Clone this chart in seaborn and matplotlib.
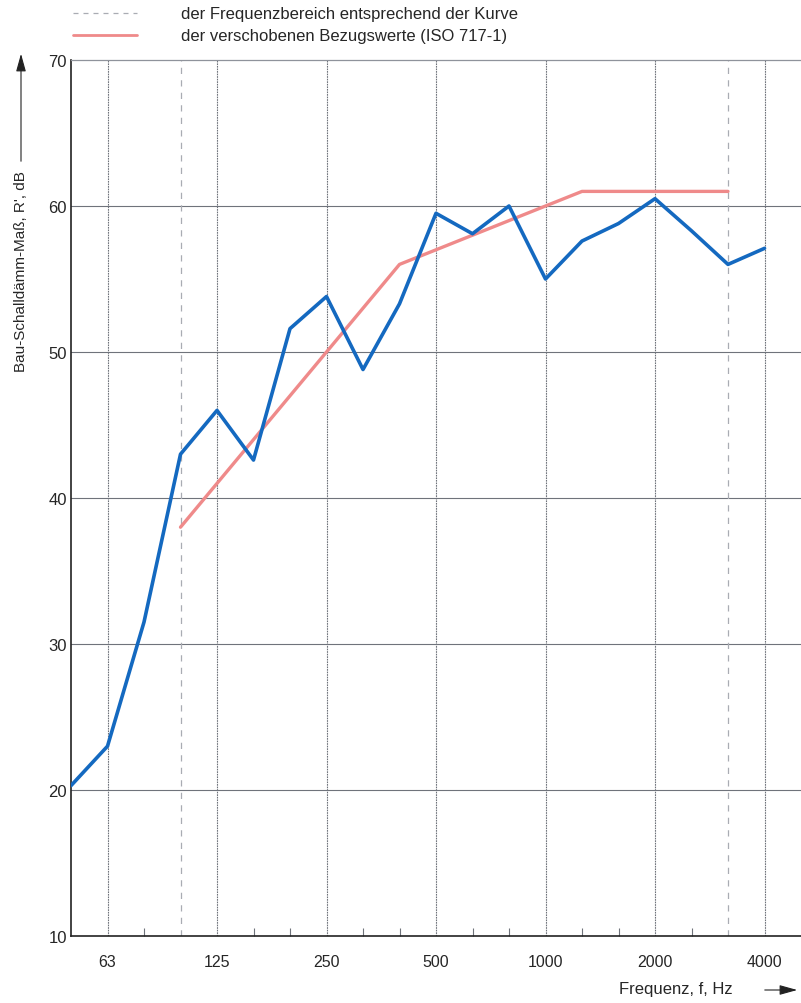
import matplotlib
matplotlib.use("Agg")
import matplotlib.pyplot as plt
import seaborn as sns
import pandas as pd
import numpy as np

# Third-octave band centre frequencies (Hz)
bands = ["50", "63", "80", "100", "125", "160", "200", "250", "315", "400",
         "500", "630", "800", "1000", "1250", "1600", "2000", "2500", "3150",
         "4000", "5000"]

# Measured apparent sound reduction index R' (dB), 50 Hz .. 4000 Hz
measured = [20.3, 23.0, 31.5, 43.0, 46.0, 42.6, 51.6, 53.8, 48.8, 53.3,
            59.5, 58.1, 60.0, 55.0, 57.6, 58.8, 60.5, 58.3, 56.0, 57.1]

# Shifted ISO 717-1 reference curve, 100 Hz .. 3150 Hz
reference = [38, 41, 44, 47, 50, 53, 56, 57, 58, 59, 60, 61, 61, 61, 61, 61]
ref_start = bands.index("100")

labelled = ["63", "125", "250", "500", "1000", "2000", "4000"]
range_edges = ["100", "3150"]

sns.set_theme(style="white")
plt.rcParams["font.family"] = ["Liberation Sans", "DejaVu Sans"]

fig = plt.figure(figsize=(8.01, 10.04), dpi=100)
ax = fig.add_axes([71 / 801, 1 - 937 / 1004, 1 - 71 / 801, (937 - 61) / 1004])

df_meas = pd.DataFrame({"band": np.arange(len(measured)), "R": measured})
df_ref = pd.DataFrame({"band": np.arange(ref_start, ref_start + len(reference)),
                       "R": reference})

# Grid
grid_c = "#6f737b"
for y in range(20, 70, 10):
    ax.axhline(y, color=grid_c, lw=0.8, zorder=1)
for b in labelled:
    ax.axvline(bands.index(b), color=grid_c, lw=0.8, ls=(0, (1.5, 0.8)), zorder=1)
for b in range_edges:
    ax.axvline(bands.index(b), color="#a9acb3", lw=0.9, ls=(0, (5, 5)), zorder=1)

sns.lineplot(data=df_ref, x="band", y="R", ax=ax, color="#ef8a8a", lw=2.4,
             zorder=3, legend=False)
sns.lineplot(data=df_meas, x="band", y="R", ax=ax, color="#1469c0", lw=2.6,
             zorder=4, legend=False)

ax.set_xlim(0, len(bands) - 1)
ax.set_ylim(10, 70)
ax.set_xlabel("")
ax.set_ylabel("")

ax.set_xticks([bands.index(b) for b in labelled])
ax.set_xticklabels(labelled)
minor = [i for i, b in enumerate(bands)
         if b not in labelled and b not in range_edges and 0 < i < len(bands) - 1]
ax.set_xticks(minor, minor=True)
ax.tick_params(axis="x", which="minor", direction="in", length=6, width=0.8,
               color=grid_c, bottom=True)
ax.tick_params(axis="x", which="major", length=0, pad=13, labelsize=11.5)
ax.set_yticks(range(10, 71, 10))
ax.tick_params(axis="y", length=0, pad=3, labelsize=12)

for s in ["left", "bottom"]:
    ax.spines[s].set_color("#222222")
    ax.spines[s].set_linewidth(1.2)
ax.spines["top"].set_color("#8f939b")
ax.spines["top"].set_linewidth(0.9)
ax.spines["right"].set_visible(False)

# Axis titles with arrows
fig.text(21 / 801, 1 - 272 / 1004, "Bau-Schalldämm-Maß, R', dB", rotation=90,
         ha="center", va="center", fontsize=11)
fig.add_artist(matplotlib.patches.FancyArrowPatch(
    (21 / 801, 1 - 165 / 1004), (21 / 801, 1 - 52 / 1004),
    transform=fig.transFigure, arrowstyle="-|>,head_length=0.9,head_width=0.25",
    mutation_scale=12, color="#222222", lw=0.8))
fig.text(676 / 801, 1 - 990 / 1004, "Frequenz, f, Hz", ha="center",
         va="center", fontsize=12)
fig.add_artist(matplotlib.patches.FancyArrowPatch(
    (762 / 801, 1 - 991 / 1004), (800 / 801, 1 - 991 / 1004),
    transform=fig.transFigure, arrowstyle="-|>,head_length=0.9,head_width=0.25",
    mutation_scale=12, color="#222222", lw=0.8))

# Legend
fig.add_artist(matplotlib.lines.Line2D([73 / 801, 137 / 801], [1 - 14 / 1004] * 2,
               transform=fig.transFigure, color="#a9acb3", lw=0.9, ls=(0, (4, 4))))
fig.add_artist(matplotlib.lines.Line2D([73 / 801, 137 / 801], [1 - 36 / 1004] * 2,
               transform=fig.transFigure, color="#ef8a8a", lw=2.0))
fig.text(181 / 801, 1 - 15 / 1004, "der Frequenzbereich entsprechend der Kurve",
         ha="left", va="center", fontsize=12)
fig.text(181 / 801, 1 - 37 / 1004, "der verschobenen Bezugswerte (ISO 717-1)",
         ha="left", va="center", fontsize=12)

fig.savefig("out.png", dpi=100, facecolor="white")
